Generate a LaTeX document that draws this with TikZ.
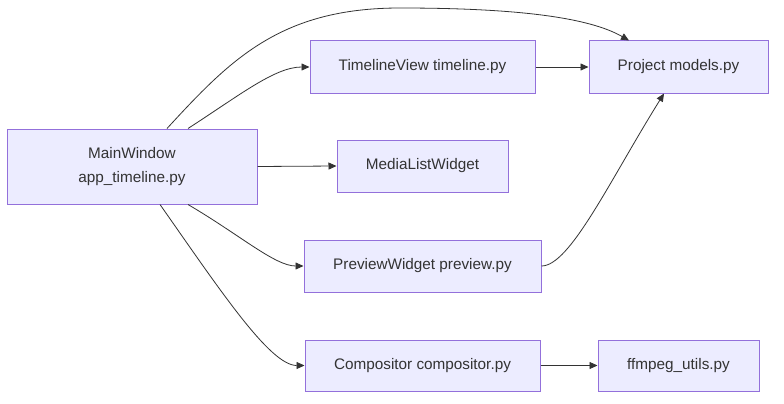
\documentclass[tikz,border=0pt]{standalone}
\usepackage{fontspec}
\setmainfont{Liberation Sans}
\usetikzlibrary{arrows.meta}
\definecolor{boxfill}{HTML}{ECECFF}
\definecolor{boxline}{HTML}{9370DB}
\definecolor{txt}{HTML}{333333}
\tikzset{
  box/.style={draw=boxline, fill=boxfill, line width=1pt, inner sep=0pt, text=txt,
    font=\fontsize{15.3}{24}\selectfont, align=center},
  conn/.style={draw=txt, line width=0.8pt, -{Triangle[length=8pt,width=7pt]}},
}
\begin{document}
\begin{tikzpicture}[x=1pt,y=-1pt]
\useasboundingbox (0,0) rectangle (784,404);
\fill[white] (0,0) rectangle (784,404);
\node[box, minimum width=250pt, minimum height=75pt] (main) at (132,166.5) {MainWindow\\app\_timeline.py};
\node[box, minimum width=225pt, minimum height=52pt] (tl) at (422.5,67) {TimelineView timeline.py};
\node[box, minimum width=179pt, minimum height=52pt] (proj) at (678.5,67) {Project models.py};
\node[box, minimum width=171pt, minimum height=52pt] (media) at (422.5,166) {MediaListWidget};
\node[box, minimum width=237pt, minimum height=52pt] (prev) at (422.5,266) {PreviewWidget preview.py};
\node[box, minimum width=235pt, minimum height=51pt] (comp) at (422.5,365.5) {Compositor compositor.py};
\node[box, minimum width=161pt, minimum height=51pt] (ff) at (678.5,365.5) {ffmpeg\_utils.py};

\coordinate (top) at (400,8);
\draw[conn] ([xshift=35pt]main.north) .. controls (230,60) and (280,8) .. (top)
  .. controls (520,8) and (590,18) .. ([xshift=-49.5pt]proj.north);
\draw[conn] ([xshift=56pt]main.north) .. controls (240,95) and (275,67) .. (tl.west);
\draw[conn] (main.east) -- (media.west);
\draw[conn] ([xshift=56pt]main.south) .. controls (240,235) and (275,266) .. (prev.west);
\draw[conn] ([xshift=28pt]main.south) .. controls (220,290) and (270,365.5) .. (comp.west);
\draw[conn] (tl.east) -- (proj.west);
\draw[conn] (prev.east) .. controls (570,266) and (610,180) .. ([xshift=-14.5pt]proj.south);
\draw[conn] (comp.east) -- (ff.west);
\end{tikzpicture}
\end{document}
